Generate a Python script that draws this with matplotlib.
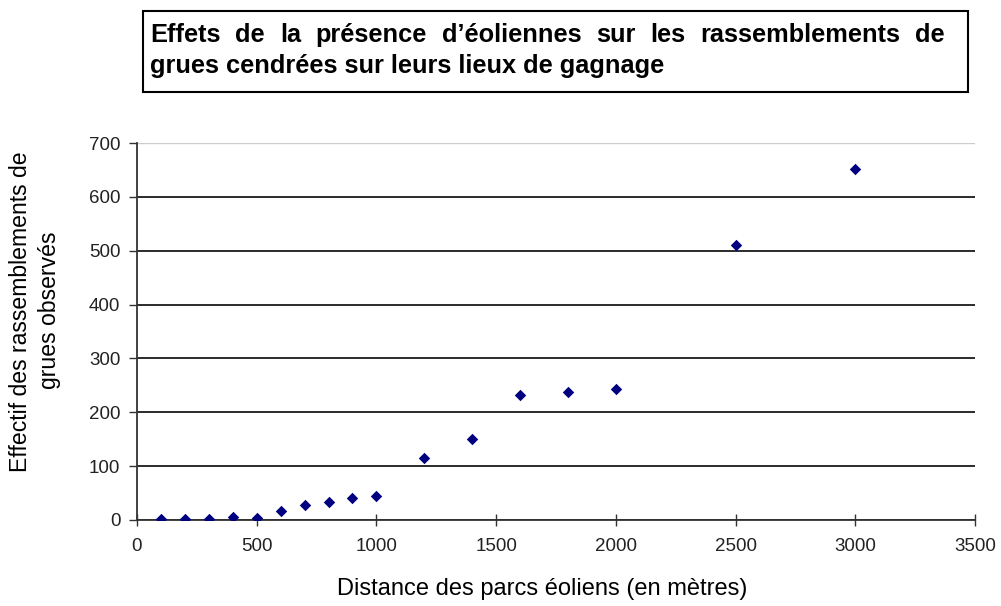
import matplotlib
matplotlib.use('Agg')
from matplotlib import pyplot as plt
from matplotlib.patches import Rectangle

# distance (m) and number of crane gatherings observed
distances = [100, 200, 300, 400, 500, 600, 700, 800, 900, 1000,
             1200, 1400, 1600, 1800, 2000, 2500, 3000]
effectifs = [2, 2, 2, 5, 4, 16, 27, 33, 40, 45,
             115, 150, 233, 238, 244, 511, 652]

title_lines = ["Effets de la présence d’éoliennes sur les rassemblements de",
               "grues cendrées sur leurs lieux de gagnage"]
ylabel_lines = ["Effectif des rassemblements de", "grues observés"]
xlabel = "Distance des parcs éoliens (en mètres)"

plt.rcParams['font.family'] = ['Liberation Sans', 'DejaVu Sans']
title_font = ['Liberation Sans Narrow', 'Liberation Sans', 'DejaVu Sans']

W, H = 1001, 606
fig = plt.figure(figsize=(W / 100, H / 100), dpi=100)
ax = fig.add_axes([137/W, 1 - 520/H, (975-137)/W, (520-143)/H])

ax.scatter(distances, effectifs, marker='D', s=34, color='#000080',
           linewidths=0, zorder=3)

ax.set_xlim(0, 3500)
ax.set_ylim(0, 700)
ax.set_xticks(range(0, 3501, 500))
ax.set_yticks(range(0, 701, 100))
ax.yaxis.grid(True, color='#1a1a1a', linewidth=1.3)
ax.set_axisbelow(True)
for s in ['top', 'right']:
    ax.spines[s].set_visible(False)
for s in ['left', 'bottom']:
    ax.spines[s].set_color('#333333')
    ax.spines[s].set_linewidth(1.3)
ax.axhline(700, color='#cccccc', linewidth=1)
ax.tick_params(labelsize=13.5, labelcolor='#222222', color='#333333', width=1)
ax.tick_params(axis='y', length=6, pad=6)
ax.tick_params(axis='x', direction='inout', length=8, pad=9)

fig.text(542/W, 1 - 595/H, xlabel, ha='center', va='baseline', fontsize=17)
fig.text(21/W, 1 - 312/H, ylabel_lines[0], ha='center', va='center',
         fontsize=16.6, rotation=90)
fig.text(50/W, 1 - 310/H, ylabel_lines[1], ha='center', va='center',
         fontsize=16.6, rotation=90)

# title box
fig.patches.append(Rectangle((143/W, 1 - 92/H), (968-143)/W, (92-11)/H,
                             transform=fig.transFigure, fill=False,
                             edgecolor='black', linewidth=1.5))

renderer = fig.canvas.get_renderer()
# size the title so the second line is about 515 px wide
line2 = fig.text(150/W, 1 - 73/H, title_lines[1], ha='left', va='baseline',
                 fontsize=20, fontweight='bold', family=title_font)
tsize = 20 * 515 / line2.get_window_extent(renderer).width
line2.set_fontsize(tsize)

# first line justified between x=150 and x=945
words = title_lines[0].split(' ')
word_texts = [fig.text(0, 1 - 42/H, w, ha='left', va='baseline',
                       fontsize=tsize, fontweight='bold', family=title_font)
              for w in words]
widths = [t.get_window_extent(renderer).width for t in word_texts]
gap = (945 - 150 - sum(widths)) / (len(words) - 1)
x = 150
for t, w in zip(word_texts, widths):
    t.set_x(x / W)
    x += w + gap

fig.savefig('out.png', dpi=100)
